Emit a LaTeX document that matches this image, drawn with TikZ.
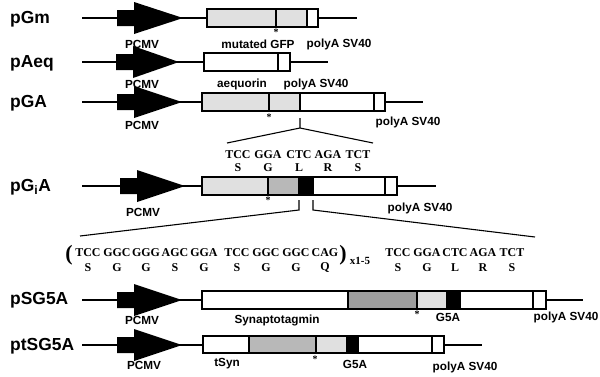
\documentclass[tikz,border=0pt]{standalone}
\usepackage{fontspec}
\setmainfont{Liberation Serif}
\setsansfont{Liberation Sans}
\tikzset{
  rowlbl/.style={font=\sffamily\bfseries\fontsize{17.5}{20}\selectfont, anchor=west, inner sep=0pt},
  sm/.style={font=\sffamily\bfseries\fontsize{11.8}{13}\selectfont, inner sep=0pt},
  cod/.style={font=\bfseries\fontsize{12}{14}\selectfont, inner sep=0pt},
  star/.style={font=\bfseries\fontsize{10}{11}\selectfont, inner sep=0pt},
  seg/.style={draw, line width=1.2pt},
  wire/.style={line width=1.1pt},
  lite/.style={fill=black!12},
  mid/.style={fill=black!28},
  dark/.style={fill=black!38},
  solid/.style={fill=black},
}
\newcommand\pcmvarrow[3]{% y, body start, tip
  \fill (#2,#1-8) -- (#2+17,#1-8) -- (#2+17,#1-16) -- (#3,#1) -- (#2+17,#1+16) -- (#2+17,#1+8) -- (#2,#1+8) -- cycle;}
\begin{document}
\begin{tikzpicture}[x=1bp,y=-1bp]
\useasboundingbox (0,0) rectangle (600,376);
% ---------- pGm ----------
\node[rowlbl] (lGm) at (10,19) {pGm};
\coordinate (gmL) at (82,18); \coordinate (gmR) at (357,18);
\coordinate (gmB) at (207,18); \coordinate (gmE) at (318,18);
\draw[wire] (gmL) -- (gmB); \draw[wire] (gmE) -- (gmR);
\pcmvarrow{18}{117}{183}
\draw[seg,lite] (207,9) rectangle (276,27);
\draw[seg,lite] (276,9) rectangle (307,27);
\draw[seg,fill=white] (307,9) rectangle (318,27);
\node[star] (s1) at (276,32) {*};
\node[sm] (p1) at (142,44) {PCMV};
\node[sm] (t1) at (258,44) {mutated GFP};
\node[sm] (a1) at (339,44) {polyA SV40};
% ---------- pAeq ----------
\node[rowlbl] (lAeq) at (10,63) {pAeq};
\coordinate (aqL) at (82,62); \coordinate (aqR) at (328,62);
\draw[wire] (aqL) -- (204,62); \draw[wire] (290,62) -- (aqR);
\pcmvarrow{62}{116}{179}
\draw[seg,fill=white] (204,53) rectangle (278,71);
\draw[seg,fill=white] (278,53) rectangle (290,71);
\node[sm] (p2) at (142,84) {PCMV};
\node[sm] (t2) at (242,84) {aequorin};
\node[sm] (a2) at (316,84) {polyA SV40};
% ---------- pGA ----------
\node[rowlbl] (lGA) at (10,103) {pGA};
\draw[wire] (82,102) -- (202,102); \draw[wire] (385,102) -- (423,102);
\pcmvarrow{102}{117}{182}
\draw[seg,lite] (202,93) rectangle (269,111);
\draw[seg,lite] (269,93) rectangle (300,111);
\draw[seg,fill=white] (300,93) rectangle (374,111);
\draw[seg,fill=white] (374,93) rectangle (385,111);
\node[star] (s3) at (269,117) {*};
\node[sm] (p3) at (142,125) {PCMV};
\node[sm] (a3) at (408,122) {polyA SV40};
% bracket 1
\coordinate (b1t) at (300,118); \coordinate (b1m) at (300,128);
\coordinate (b1l) at (227,143); \coordinate (b1r) at (373,143);
\draw[wire] (b1t) -- (b1m) (b1l) -- (b1m) -- (b1r);
% codons 1
\foreach \x/\c/\a [count=\i] in {238/TCC/S,268/GGA/G,299/CTC/L,328/AGA/R,358/TCT/S}{
  \node[cod] (c1\i) at (\x,155) {\c};
  \node[cod] (aa1\i) at (\x,168) {\a};
}
% ---------- pGiA ----------
\node[rowlbl] (lGiA) at (10,187) {pG\textsubscript{i}A};
\draw[wire] (82,186) -- (202,186); \draw[wire] (397,186) -- (436,186);
\pcmvarrow{186}{120}{185}
\draw[seg,lite] (202,177) rectangle (268,195);
\draw[seg,mid] (268,177) rectangle (299,195);
\draw[seg,solid] (299,177) rectangle (313,195);
\draw[seg,fill=white] (313,177) rectangle (385,195);
\draw[seg,fill=white] (385,177) rectangle (397,195);
\node[star] (s4) at (268,200) {*};
\node[sm] (p4) at (143,212) {PCMV};
\node[sm] (a4) at (420,208) {polyA SV40};
% bracket 2
\coordinate (b2lt) at (299,200); \coordinate (b2lb) at (299,210);
\coordinate (b2rt) at (313,200); \coordinate (b2rb) at (313,210);
\coordinate (b2l) at (80,236); \coordinate (b2r) at (535,237);
\draw[wire] (b2lt) -- (b2lb) -- (b2l);
\draw[wire] (b2rt) -- (b2rb) -- (b2r);
% sequence
\node[font=\bfseries\fontsize{22}{24}\selectfont, inner sep=0pt] (po) at (69,255) {(};
\node[font=\bfseries\fontsize{22}{24}\selectfont, inner sep=0pt] (pc) at (343,255) {)};
\node[font=\bfseries\fontsize{11}{12}\selectfont, inner sep=0pt] (rep) at (360,261) {x1-5};
\foreach \x/\c/\a [count=\i] in {88/TCC/S,117/GGC/G,146/GGG/G,175/AGC/S,204/GGA/G,237/TCC/S,266/GGC/G,296/GGC/G,325/CAG/Q}{
  \node[cod] (c2\i) at (\x,253) {\c};
  \node[cod] (aa2\i) at (\x,268) {\a};
}
\foreach \x/\c/\a [count=\i] in {398/TCC/S,427/GGA/G,455/CTC/L,483/AGA/R,512/TCT/S}{
  \node[cod] (c3\i) at (\x,253) {\c};
  \node[cod] (aa3\i) at (\x,268) {\a};
}
% ---------- pSG5A ----------
\node[rowlbl] (lSG) at (10,300) {pSG5A};
\draw[wire] (82,300) -- (202,300); \draw[wire] (546,300) -- (583,300);
\pcmvarrow{300}{117}{182}
\draw[seg,fill=white] (202,291) rectangle (348,309);
\draw[seg,dark] (348,291) rectangle (417,309);
\draw[seg,lite] (417,291) rectangle (447,309);
\draw[seg,solid] (447,291) rectangle (460,309);
\draw[seg,fill=white] (460,291) rectangle (533,309);
\draw[seg,fill=white] (533,291) rectangle (546,309);
\node[star] (s5) at (417,314) {*};
\node[sm] (p5) at (142,320) {PCMV};
\node[sm] (t5) at (277,320) {Synaptotagmin};
\node[sm] (g5) at (448,317) {G5A};
\node[sm] (a5) at (566,317) {polyA SV40};
% ---------- ptSG5A ----------
\node[rowlbl] (ltSG) at (10,346) {ptSG5A};
\draw[wire] (82,345) -- (203,345); \draw[wire] (444,345) -- (482,345);
\pcmvarrow{345}{117}{182}
\draw[seg,fill=white] (203,336) rectangle (249,353);
\draw[seg,mid] (249,336) rectangle (316,353);
\draw[seg,lite] (316,336) rectangle (347,353);
\draw[seg,solid] (347,336) rectangle (358,353);
\draw[seg,fill=white] (358,336) rectangle (432,353);
\draw[seg,fill=white] (432,336) rectangle (444,353);
\node[star] (s6) at (315,359) {*};
\node[sm] (p6) at (144,365) {PCMV};
\node[sm] (t6) at (227,364) {tSyn};
\node[sm] (g6) at (355,364) {G5A};
\node[sm] (a6) at (465,367) {polyA SV40};
\end{tikzpicture}
\end{document}
